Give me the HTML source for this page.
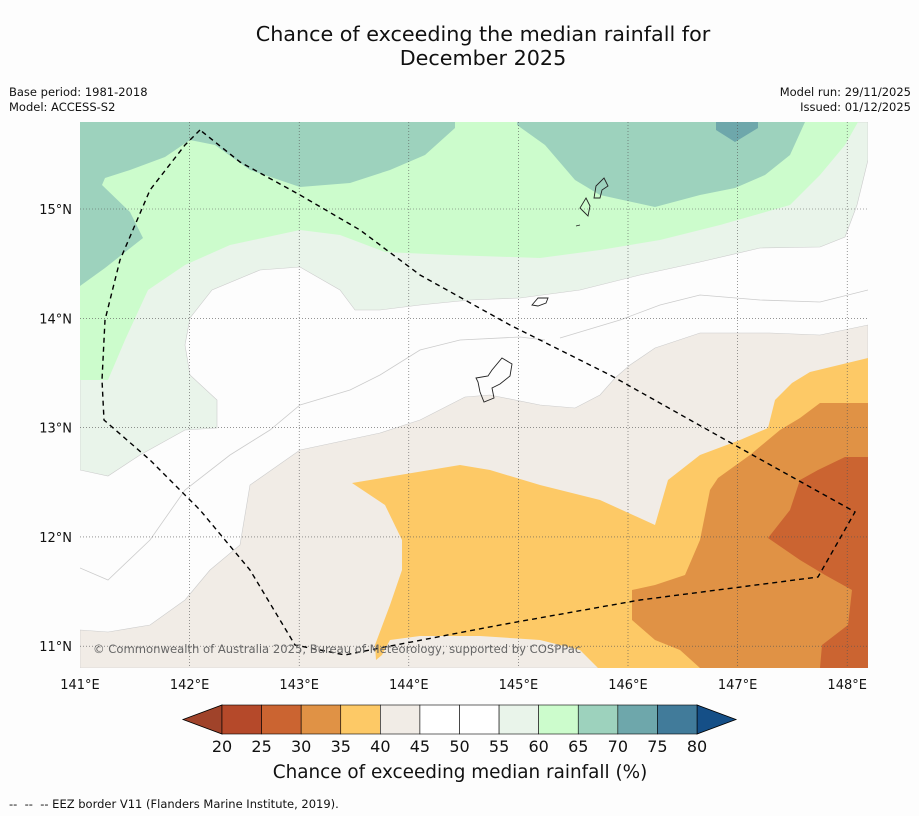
<!DOCTYPE html>
<html><head><meta charset="utf-8">
<style>
html,body{margin:0;padding:0;background:#fdfdfd;}
body{width:919px;height:816px;overflow:hidden;position:relative;font-family:"DejaVu Sans","Liberation Sans",sans-serif;}
.t{position:absolute;color:#111;white-space:nowrap;}
</style></head>
<body>
<div class="t" style="left:0;width:966px;top:22px;text-align:center;font-size:20.7px;line-height:24px;">Chance of exceeding the median rainfall for<br>December 2025</div>
<div class="t" style="left:9px;top:85px;font-size:11.5px;line-height:15px;">Base period: 1981-2018<br>Model: ACCESS-S2</div>
<div class="t" style="right:8px;top:85px;font-size:11.5px;line-height:15px;text-align:right;">Model run: 29/11/2025<br>Issued: 01/12/2025</div>
<div class="t" style="left:9px;top:797px;font-size:11.5px;">--&nbsp; --&nbsp; -- EEZ border V11 (Flanders Marine Institute, 2019).</div>

<svg id="map" width="919" height="816" style="position:absolute;left:0;top:0">
<defs><clipPath id="cp"><rect x="80" y="122" width="788" height="546"/></clipPath></defs>
<g clip-path="url(#cp)">
<rect x="80" y="122" width="788" height="546" fill="#fdfdfd"/>
<polygon fill="#e9f4ea" stroke="#ccc" stroke-width="0.6" points="80,122 868,122 868,160 857,205 845,237 820,247 760,248 700,262 640,275 580,290 520,298 470,300 420,305 380,310 355,310 340,290 300,267 260,270 212,290 190,318 185,345 190,375 217,400 217,428 185,430 140,455 108,476 80,470"/>
<polygon fill="#ccfccc" points="80,122 868,122 858,122 845,145 820,175 790,205 720,225 660,240 600,250 540,258 450,255 385,252 340,235 300,230 230,245 185,265 148,290 125,340 108,380 80,380"/>
<polygon fill="#9dd2bd" points="80,122 455,122 455,128 425,155 390,170 350,183 300,187 250,170 215,145 190,140 165,157 130,170 105,178 102,185 130,212 143,238 105,268 80,286"/>
<polygon fill="#9dd2bd" points="517,122 805,122 790,155 765,175 735,188 700,195 655,207 600,195 575,180 545,145 517,125"/>
<polygon fill="#6ea7ab" points="716,122 758,122 758,128 735,142 716,130"/>
<polyline fill="none" stroke="#ccc" stroke-width="0.8" points="80,568 108,580 150,540 185,490 230,455 270,430 300,405 350,390 380,375 420,350 460,340 520,337 545,340"/>
<polyline fill="none" stroke="#ccc" stroke-width="0.8" points="560,338 620,320 660,305 700,295 760,300 820,302 868,290"/>
<polygon fill="#f1ece6" stroke="#ccc" stroke-width="0.6" points="80,630 108,632 150,625 185,600 210,570 240,545 250,485 300,450 380,433 420,420 465,397 490,395 540,405 575,408 600,395 615,378 630,365 655,348 700,333 770,333 820,335 868,325 868,668 80,668"/>
<polygon fill="#fdc966" points="352,483 460,465 490,470 540,485 600,500 655,525 668,480 700,455 740,440 768,428 775,400 792,383 810,372 868,358 868,668 598,668 580,650 540,640 480,636 420,636 390,640 382,655 376,660 375,645 390,605 402,570 402,540 385,505"/>
<polygon fill="#e09245" points="632,590 655,585 685,575 700,540 710,490 718,478 750,455 780,430 800,418 820,403 868,403 868,668 700,668 680,650 655,640 632,620"/>
<polygon fill="#cb6431" points="768,538 790,510 800,480 818,470 845,457 868,457 868,668 820,668 822,645 848,625 852,590 825,575 800,560"/>
<g fill="none" stroke="#222" stroke-width="0.9">
<path d="M502,358 L512,364 L510,376 L500,384 L492,388 L494,398 L484,402 L480,392 L478,382 L476,378 L488,376 L492,370 Z"/>
<path d="M604,178 L608,186 L602,190 L600,198 L594,198 L596,186 Z"/>
<path d="M586,198 L590,206 L588,216 L584,212 L580,208 Z"/>
<path d="M576,226 L580,225"/>
<path d="M532,305 L538,298 L548,298 L546,303 L538,306 Z"/>
</g>
</g>
<g id="grid"></g>
<polyline fill="none" stroke="#000" stroke-width="1.4" stroke-dasharray="5,4" points="200,130 185,145 150,190 120,260 105,320 102,380 104,420 150,460 200,510 250,570 295,645 345,655 380,648 500,625 640,600 818,577 855,512 740,448 610,375 540,340 510,325 420,275 360,230 300,195 240,162 200,130"/>
<text x="93" y="653" font-size="11.6" fill="#666" font-family="DejaVu Sans, sans-serif">© Commonwealth of Australia 2025, Bureau of Meteorology, supported by COSPPac</text>
<g id="ticks"></g>
<g id="cbar"></g>
<text x="460" y="778" text-anchor="middle" font-size="18.4" fill="#111" font-family="DejaVu Sans, sans-serif">Chance of exceeding median rainfall (%)</text>
</svg>
<script>
const lonTicks=[141,142,143,144,145,146,147,148];
const latTicks=[11,12,13,14,15];
const cbLevels=[20,25,30,35,40,45,50,55,60,65,70,75,80];
const cbColors=["#b5492a","#cb6431","#e09245","#fdc966","#f1ece6","#ffffff","#ffffff","#e9f4ea","#ccfccc","#9dd2bd","#6ea7ab","#417b9a"];
const cbExtend=["#a0432a","#154f87"];
const NS="http://www.w3.org/2000/svg";
const FF='DejaVu Sans, sans-serif';
const xLon=l=>80+(l-141)*109.6;
const yLat=l=>209+(15-l)*109.3;
const xCb=v=>222+(v-20)*(697-222)/60;
function mk(tag,attrs,parent){const e=document.createElementNS(NS,tag);for(const k in attrs)e.setAttribute(k,attrs[k]);parent.appendChild(e);return e;}
const grid=document.getElementById('grid'),ticks=document.getElementById('ticks'),cb=document.getElementById('cbar');
lonTicks.forEach(l=>{const x=xLon(l);
 if(l>141){const g=mk('line',{x1:x,x2:x,y1:122,y2:668,stroke:'#555','stroke-width':0.6,'stroke-dasharray':'1,2'},grid);
 
 }
 const t=mk('text',{x:x,y:689,'text-anchor':'middle','font-size':13,fill:'#111','font-family':FF},ticks);t.textContent=l+'°E';
 
 });
latTicks.forEach(l=>{const y=yLat(l);
 const g=mk('line',{x1:80,x2:868,y1:y,y2:y,stroke:'#555','stroke-width':0.6,'stroke-dasharray':'1,2'},grid);
 
 
 const t=mk('text',{x:72,y:y+5,'text-anchor':'end','font-size':13,fill:'#111','font-family':FF},ticks);t.textContent=l+'°N';
 
 });
const y0=705,y1=734;
let p=mk('polygon',{points:`${xCb(20)},${y0} ${xCb(20)},${y1} ${xCb(20)-39},${(y0+y1)/2}`,fill:cbExtend[0],stroke:'#000','stroke-width':0.8},cb);


p=mk('polygon',{points:`${xCb(80)},${y0} ${xCb(80)},${y1} ${xCb(80)+39},${(y0+y1)/2}`,fill:cbExtend[1],stroke:'#000','stroke-width':0.8},cb);


cbColors.forEach((c,i)=>{const a=xCb(cbLevels[i]),b=xCb(cbLevels[i+1]);
 const r=mk('rect',{x:a,y:y0,width:b-a,height:y1-y0,fill:c,stroke:'#000','stroke-width':0.6},cb);
 
 });
cbLevels.forEach(v=>{const t=mk('text',{x:xCb(v),y:752,'text-anchor':'middle','font-size':16,fill:'#111','font-family':FF},cb);t.textContent=v;
 
 });
</script>
</body></html>
